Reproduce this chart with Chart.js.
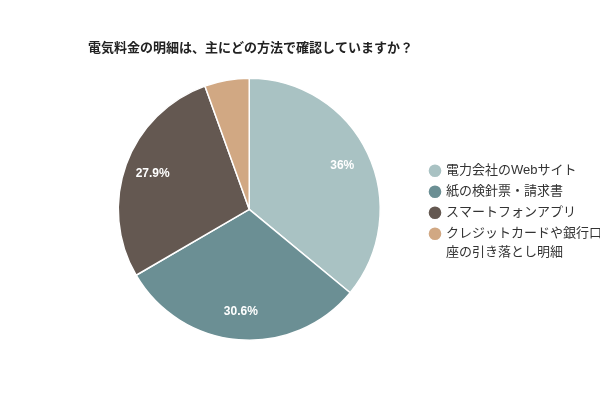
<!DOCTYPE html>
<html lang="ja">
<head>
    <meta charset="UTF-8">
    <title>電気料金の明細</title>
    <style>
        body {
            margin: 0;
            padding: 0;
            background-color: #fff;
        }

        #chart-box {
            width: 600px;
            height: 400px;
            position: relative;
        }
    </style>
</head>
<body>
    <div id="chart-box">
        <canvas id="myChart"></canvas>
    </div>

    <script src="https://cdn.jsdelivr.net/npm/chart.js"></script>
    <script>
const chartTitle = '電気料金の明細は、主にどの方法で確認していますか？';
const categories = [
    '電力会社のWebサイト',
    '紙の検針票・請求書',
    'スマートフォンアプリ',
    ['クレジットカードや銀行口', '座の引き落とし明細']
];
const shares = [36, 30.6, 27.9, 5.5];
const sliceColors = ['#a9c2c3', '#6b8f94', '#645851', '#d1a883'];

const fontFamily = "'Liberation Sans', 'Noto Sans CJK JP', sans-serif";

// percent text inside the slices (small slices are left blank)
const sliceLabels = {
    id: 'sliceLabels',
    afterDatasetsDraw(chart) {
        const { ctx } = chart;
        const meta = chart.getDatasetMeta(0);
        ctx.save();
        ctx.fillStyle = '#fff';
        ctx.font = 'bold 12px ' + fontFamily;
        ctx.textAlign = 'center';
        ctx.textBaseline = 'middle';
        meta.data.forEach((arc, i) => {
            const value = shares[i];
            if (value < 10) return;
            const p = arc.getProps(['x', 'y', 'startAngle', 'endAngle', 'outerRadius'], true);
            const mid = (p.startAngle + p.endAngle) / 2;
            const r = p.outerRadius * 0.785;
            ctx.fillText(value + '%', p.x + Math.cos(mid) * r, p.y + Math.sin(mid) * r);
        });
        ctx.restore();
    }
};

// nudge the legend block down/right a bit, like the original
const legendNudge = {
    id: 'legendNudge',
    afterLayout(chart) {
        const lg = chart.legend;
        if (!lg) return;
        lg.top += 23;
        lg.bottom += 23;
        lg.left += 12;
        lg.right += 12;
    }
};

const ctx = document.getElementById('myChart').getContext('2d');
const myChart = new Chart(ctx, {
    type: 'pie',
    data: {
        labels: categories,
        datasets: [{
            data: shares,
            backgroundColor: sliceColors,
            borderColor: '#fff',
            borderWidth: 1.5
        }]
    },
    options: {
        responsive: true,
        maintainAspectRatio: false,
        animation: false,
        layout: {
            padding: { left: 88, right: 0, top: 41, bottom: 59 }
        },
        plugins: {
            title: {
                display: true,
                text: chartTitle,
                align: 'start',
                color: '#222',
                font: { family: fontFamily, size: 13, weight: 'bold' },
                padding: { top: 0, bottom: 21 }
            },
            legend: {
                position: 'right',
                labels: {
                    usePointStyle: true,
                    pointStyle: 'circle',
                    boxWidth: 9,
                    boxHeight: 10,
                    padding: 8,
                    color: '#333',
                    font: { family: fontFamily, size: 13, lineHeight: 1.4 }
                }
            },
            tooltip: { enabled: false }
        }
    },
    plugins: [sliceLabels, legendNudge]
});
    </script>
</body>
</html>
